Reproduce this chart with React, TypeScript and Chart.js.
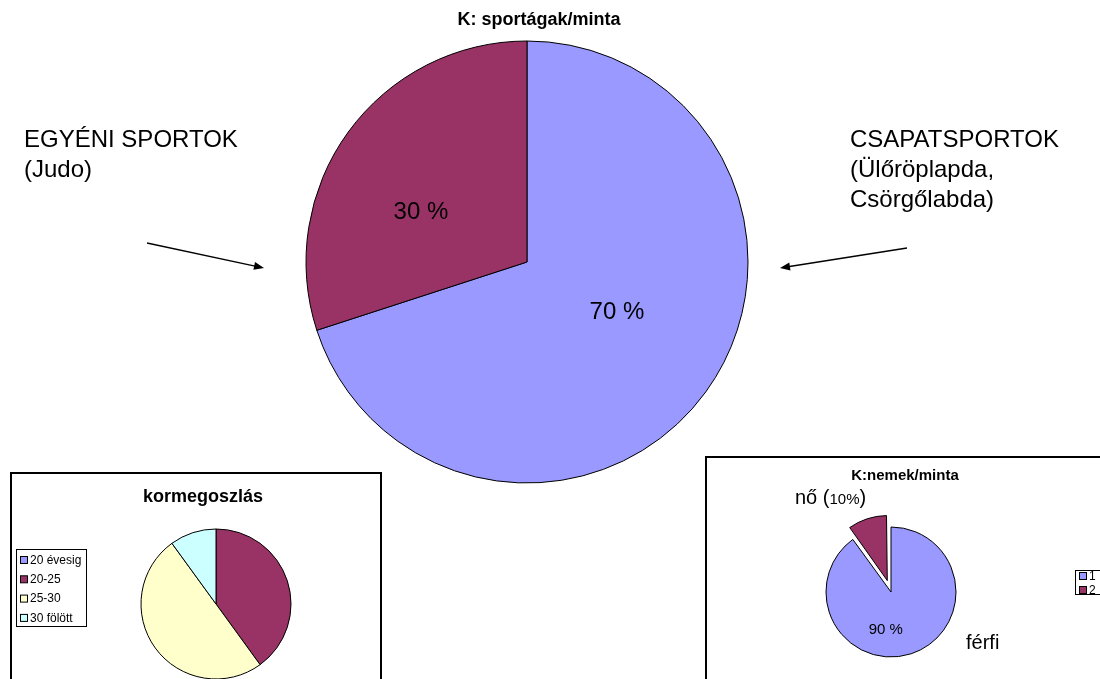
import React, { useEffect, useRef } from "react";
import { Chart, registerables } from "chart.js";

Chart.register(...registerables);

const W = 1100;
const H = 679;
const FONT = '"Liberation Sans", Arial, Helvetica, sans-serif';

// ---- main chart: K: sportágak/minta ----
const mainCategories = ["CSAPATSPORTOK", "EGYÉNI SPORTOK"];
const mainValues = [70, 30];
const mainLabels = ["70 %", "30 %"];
const mainColors = ["#9999FF", "#993366"];

// ---- age chart: kormegoszlás ----
const ageCategories = ["20 évesig", "20-25", "25-30", "30 fölött"];
const ageValues = [0, 40, 50, 10];
const ageColors = ["#9999FF", "#993366", "#FFFFCC", "#CCFFFF"];

// ---- sex chart: K:nemek/minta ----
const sexCategories = ["1", "2"];
const sexValues = [90, 10];
const sexColors = ["#9999FF", "#993366"];
const sexExplode = [0, 12]; // pixels the slice is pulled out

type PieSpec = {
  cx: number;
  cy: number;
  r: number;
  labels: string[];
  values: number[];
  colors: string[];
  explode?: number[];
  draw: (chart: any, ctx: CanvasRenderingContext2D) => void;
};

function text(
  ctx: CanvasRenderingContext2D,
  s: string,
  x: number,
  y: number,
  size: number,
  opts: { bold?: boolean; align?: CanvasTextAlign; baseline?: CanvasTextBaseline } = {}
) {
  ctx.save();
  ctx.font = `${opts.bold ? "bold " : ""}${size}px ${FONT}`;
  ctx.fillStyle = "#000";
  ctx.textAlign = opts.align || "left";
  ctx.textBaseline = opts.baseline || "alphabetic";
  ctx.fillText(s, x, y);
  ctx.restore();
}

function arrow(ctx: CanvasRenderingContext2D, x1: number, y1: number, x2: number, y2: number) {
  const ang = Math.atan2(y2 - y1, x2 - x1);
  const hl = 10;
  const hw = 4;
  ctx.save();
  ctx.strokeStyle = "#000";
  ctx.fillStyle = "#000";
  ctx.lineWidth = 1.3;
  ctx.beginPath();
  ctx.moveTo(x1, y1);
  ctx.lineTo(x2 - Math.cos(ang) * hl * 0.8, y2 - Math.sin(ang) * hl * 0.8);
  ctx.stroke();
  ctx.beginPath();
  ctx.moveTo(x2, y2);
  ctx.lineTo(
    x2 - Math.cos(ang) * hl - Math.sin(ang) * hw,
    y2 - Math.sin(ang) * hl + Math.cos(ang) * hw
  );
  ctx.lineTo(
    x2 - Math.cos(ang) * hl + Math.sin(ang) * hw,
    y2 - Math.sin(ang) * hl - Math.cos(ang) * hw
  );
  ctx.closePath();
  ctx.fill();
  ctx.restore();
}

function legendBox(
  ctx: CanvasRenderingContext2D,
  chart: any,
  x: number,
  y: number,
  w: number,
  h: number,
  firstY: number,
  step: number,
  size: number
) {
  ctx.save();
  ctx.strokeStyle = "#000";
  ctx.lineWidth = 1;
  ctx.fillStyle = "#fff";
  ctx.fillRect(x, y, w, h);
  ctx.strokeRect(x + 0.5, y + 0.5, w, h);
  const labels: string[] = chart.data.labels;
  const colors: string[] = chart.data.datasets[0].backgroundColor;
  labels.forEach((lab, i) => {
    const yy = firstY + i * step;
    ctx.fillStyle = colors[i];
    ctx.fillRect(x + 4, yy - 3.5, 7, 7);
    ctx.strokeRect(x + 4.5, yy - 3.5, 7, 7);
    text(ctx, lab, x + 14, yy + 0.5, size, { baseline: "middle" });
  });
  ctx.restore();
}

function makePie(canvas: HTMLCanvasElement, spec: PieSpec) {
  const { cx, cy, r } = spec;
  // Chart.js translates an arc by offset/4
  const offsets = (spec.explode || []).map((e) => e * 4);
  return new Chart(canvas, {
    type: "pie",
    data: {
      labels: spec.labels,
      datasets: [
        {
          data: spec.values,
          backgroundColor: spec.colors,
          borderColor: "#000",
          borderWidth: 1,
          offset: offsets.length ? offsets : 0,
        } as any,
      ],
    },
    options: {
      responsive: false,
      animation: false,
      devicePixelRatio: 1,
      events: [],
      radius: r,
      layout: {
        padding: {
          left: cx - r,
          top: cy - r,
          right: W - (cx + r),
          bottom: H - (cy + r),
        },
      },
      plugins: {
        legend: { display: false },
        title: { display: false },
        tooltip: { enabled: false },
      },
    } as any,
    plugins: [
      {
        id: "keepRadius",
        beforeDatasetsDraw(chart: any) {
          // keep exploded slices at the same radius as the others
          const meta = chart.getDatasetMeta(0);
          meta.data.forEach((arc: any, i: number) => {
            const off = offsets[i] || 0;
            if (!off) return;
            const circ = arc.endAngle - arc.startAngle;
            const fix = 1 - Math.sin(Math.min(Math.PI, circ));
            arc.outerRadius = r - (off / 4) * fix;
          });
        },
      },
      {
        id: "annot",
        afterDraw(chart: any) {
          spec.draw(chart, chart.ctx);
        },
      },
    ],
  });
}

function arcPos(chart: any, i: number, fx: number, fy: number) {
  const a = chart.getDatasetMeta(0).data[i];
  return { x: a.x + fx * a.outerRadius, y: a.y + fy * a.outerRadius };
}

export default function App() {
  const mainRef = useRef<HTMLCanvasElement>(null);
  const ageRef = useRef<HTMLCanvasElement>(null);
  const sexRef = useRef<HTMLCanvasElement>(null);

  useEffect(() => {
    const charts: Chart[] = [];

    charts.push(
      makePie(mainRef.current!, {
        cx: 527,
        cy: 262,
        r: 221,
        labels: mainCategories,
        values: mainValues,
        colors: mainColors,
        draw: (chart, ctx) => {
          text(ctx, "K: sportágak/minta", 539, 20, 18, { bold: true, align: "center", baseline: "middle" });
          const p0 = arcPos(chart, 0, 0.407, 0.226);
          text(ctx, mainLabels[0], p0.x, p0.y, 24, { align: "center", baseline: "middle" });
          const p1 = arcPos(chart, 1, -0.48, -0.226);
          text(ctx, mainLabels[1], p1.x, p1.y, 24, { align: "center", baseline: "middle" });

          text(ctx, "EGYÉNI SPORTOK", 24, 147, 24);
          text(ctx, "(Judo)", 24, 177, 24);
          text(ctx, "CSAPATSPORTOK", 850, 147, 24);
          text(ctx, "(Ülőröplapda,", 850, 177, 24);
          text(ctx, "Csörgőlabda)", 850, 207, 24);

          arrow(ctx, 147, 243, 264, 268);
          arrow(ctx, 907, 248, 780, 268);
        },
      })
    );

    charts.push(
      makePie(ageRef.current!, {
        cx: 216,
        cy: 604,
        r: 75,
        labels: ageCategories,
        values: ageValues,
        colors: ageColors,
        draw: (chart, ctx) => {
          text(ctx, "kormegoszlás", 203, 497, 18, { bold: true, align: "center", baseline: "middle" });
          legendBox(ctx, chart, 16, 549, 70, 77, 560, 19.3, 12);
        },
      })
    );

    charts.push(
      makePie(sexRef.current!, {
        cx: 891,
        cy: 592,
        r: 65,
        labels: sexCategories,
        values: sexValues,
        colors: sexColors,
        explode: sexExplode,
        draw: (chart, ctx) => {
          text(ctx, "K:nemek/minta", 905, 476, 15, { bold: true, align: "center", baseline: "middle" });
          // nő (10%)
          ctx.save();
          let x = 795;
          const y = 504;
          ctx.font = `20px ${FONT}`;
          text(ctx, "nő (", x, y, 20);
          x += ctx.measureText("nő (").width;
          ctx.font = `15px ${FONT}`;
          text(ctx, "10%", x, y, 15);
          x += ctx.measureText("10%").width;
          text(ctx, ")", x, y, 20);
          ctx.restore();
          const p = arcPos(chart, 0, -0.08, 0.585);
          text(ctx, "90 %", p.x, p.y, 15, { align: "center", baseline: "middle" });
          text(ctx, "férfi", 966, 649, 20);
          legendBox(ctx, chart, 1075, 570, 40, 24, 576, 14, 12);
        },
      })
    );

    return () => charts.forEach((c) => c.destroy());
  }, []);

  const canvasStyle: React.CSSProperties = {
    position: "absolute",
    left: 0,
    top: 0,
    width: W,
    height: H,
    pointerEvents: "none",
  };

  return (
    <div
      style={{
        position: "fixed",
        left: 0,
        top: 0,
        width: W,
        height: H,
        overflow: "hidden",
        background: "#fff",
        fontFamily: FONT,
      }}
    >
      <div
        style={{
          position: "absolute",
          left: 10,
          top: 472,
          width: 372,
          height: 240,
          border: "2px solid #000",
          boxSizing: "border-box",
        }}
      />
      <div
        style={{
          position: "absolute",
          left: 705,
          top: 456,
          width: 420,
          height: 260,
          border: "2px solid #000",
          boxSizing: "border-box",
        }}
      />
      <canvas ref={mainRef} width={W} height={H} style={canvasStyle} />
      <canvas ref={ageRef} width={W} height={H} style={canvasStyle} />
      <canvas ref={sexRef} width={W} height={H} style={canvasStyle} />
    </div>
  );
}
